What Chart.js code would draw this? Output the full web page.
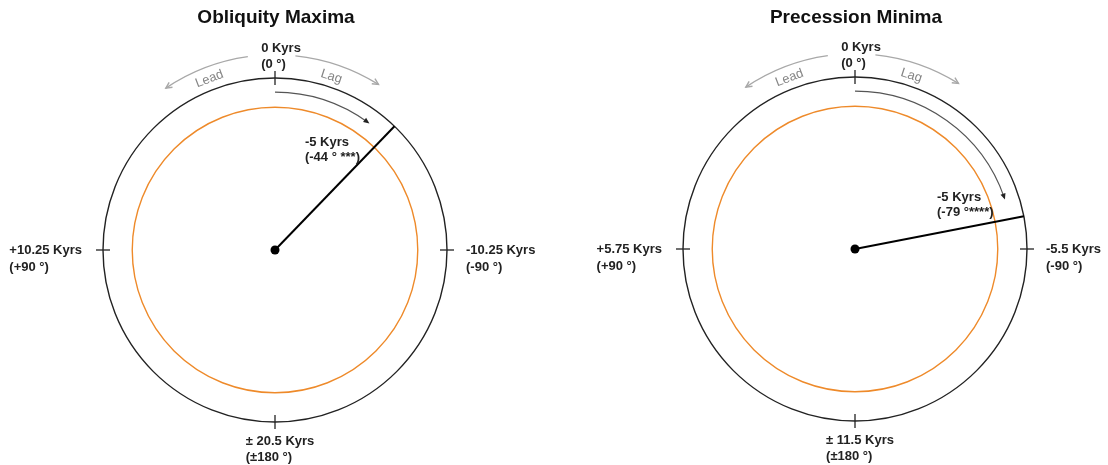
<!DOCTYPE html>
<html><head><meta charset="utf-8">
<script src="https://cdn.jsdelivr.net/npm/chart.js@4/dist/chart.umd.min.js"></script>
<style>
html,body{margin:0;padding:0;background:#fff;width:1108px;height:465px;overflow:hidden}
.p{position:absolute;top:0;width:554px;height:465px}
</style></head>
<body>
<div class="p" style="left:0"><canvas id="c0" width="554" height="465"></canvas></div>
<div class="p" style="left:554px"><canvas id="c1" width="554" height="465"></canvas></div>
<script>
// ---- data ----
const panelTitles = ['Obliquity Maxima', 'Precession Minima'];
const phaseDeg = [-44, -79];
const vectorLength = [1, 1];
const phaseKyrs = ['-5 Kyrs', '-5 Kyrs'];
const phaseText = ['(-44 ° ***)', '(-79 °****)'];
const topLabels = [['0 Kyrs', '(0 °)'], ['0 Kyrs', '(0 °)']];
const leftLabels = [['+10.25 Kyrs', '(+90 °)'], ['+5.75 Kyrs', '(+90 °)']];
const rightLabels = [['-10.25 Kyrs', '(-90 °)'], ['-5.5 Kyrs', '(-90 °)']];
const bottomLabels = [['± 20.5 Kyrs', '(±180 °)'], ['± 11.5 Kyrs', '(±180 °)']];

// ---- layout / style ----
const W = 554, H = 465, RPX = 172;
const layouts = [
  { cx: 275, cy: 250, vecLabel: { x: 0.174, y: 0.628 } },
  { cx: 301, cy: 249, vecLabel: { x: 0.477, y: 0.297 } }
];
const FONT = '"Liberation Sans", Arial, Helvetica, sans-serif';

function toCanvasAngle(a) { return (a - 90) * Math.PI / 180; }

function arrowHead(ctx, x, y, dx, dy, len, hw, filled) {
  const n = Math.hypot(dx, dy); dx /= n; dy /= n;
  const bx = x - dx * len, by = y - dy * len;
  const px = -dy, py = dx;
  ctx.beginPath();
  if (filled) {
    ctx.moveTo(x, y);
    ctx.lineTo(bx + px * hw, by + py * hw);
    ctx.lineTo(bx - px * hw, by - py * hw);
    ctx.closePath();
    ctx.fill();
  } else {
    ctx.moveTo(bx + px * hw, by + py * hw);
    ctx.lineTo(x, y);
    ctx.lineTo(bx - px * hw, by - py * hw);
    ctx.stroke();
  }
}

function textBlock(ctx, lines, x, y, lh) {
  lines.forEach((l, i) => ctx.fillText(l, x, y + i * lh));
}

const dialPlugin = {
  id: 'dial',
  beforeDatasetsDraw(chart, args, opts) {
    const i = opts.idx;
    const ctx = chart.ctx;
    const xs = chart.scales.x, ys = chart.scales.y;
    const cx = xs.getPixelForValue(0), cy = ys.getPixelForValue(0);
    const r = xs.getPixelForValue(1) - cx;
    ctx.save();
    // outer circle
    ctx.strokeStyle = '#222'; ctx.lineWidth = 1.4;
    ctx.beginPath(); ctx.arc(cx, cy, r, 0, Math.PI * 2); ctx.stroke();
    // orange circle
    ctx.strokeStyle = '#ee8a2a'; ctx.lineWidth = 1.4;
    ctx.beginPath(); ctx.arc(cx, cy, r * 0.83, 0, Math.PI * 2); ctx.stroke();
    // ticks
    ctx.strokeStyle = '#222'; ctx.lineWidth = 1.3;
    [0, 90, 180, 270].forEach(a => {
      const t = toCanvasAngle(a);
      ctx.beginPath();
      ctx.moveTo(cx + (r - 7) * Math.cos(t), cy + (r - 7) * Math.sin(t));
      ctx.lineTo(cx + (r + 7) * Math.cos(t), cy + (r + 7) * Math.sin(t));
      ctx.stroke();
    });
    // inner lag arrow from 0 to phase
    const lag = -phaseDeg[i];
    const endA = lag - 8;
    const ri = r * 0.918;
    ctx.strokeStyle = '#555'; ctx.fillStyle = '#222'; ctx.lineWidth = 1.1;
    ctx.beginPath(); ctx.arc(cx, cy, ri, toCanvasAngle(0), toCanvasAngle(endA)); ctx.stroke();
    {
      const t = endA * Math.PI / 180;
      const ex = cx + ri * Math.sin(t), ey = cy - ri * Math.cos(t);
      arrowHead(ctx, ex + Math.cos(t) * 2, ey + Math.sin(t) * 2, Math.cos(t), Math.sin(t), 6, 2.6, true);
    }
    // Lead / Lag arrows
    const ro = r * 1.135;
    ctx.strokeStyle = '#a8a8a8'; ctx.lineWidth = 1.4;
    ctx.beginPath(); ctx.arc(cx, cy, ro, toCanvasAngle(-34), toCanvasAngle(-8)); ctx.stroke();
    {
      const t = -34 * Math.PI / 180;
      const ex = cx + ro * Math.sin(t), ey = cy - ro * Math.cos(t);
      arrowHead(ctx, ex, ey, -Math.cos(t), -Math.sin(t), 6, 3, false);
    }
    ctx.beginPath(); ctx.arc(cx, cy, ro, toCanvasAngle(6), toCanvasAngle(32)); ctx.stroke();
    {
      const t = 32 * Math.PI / 180;
      const ex = cx + ro * Math.sin(t), ey = cy - ro * Math.cos(t);
      arrowHead(ctx, ex, ey, Math.cos(t), Math.sin(t), 6, 3, false);
    }
    ctx.fillStyle = '#858585'; ctx.font = '13px ' + FONT;
    ctx.textAlign = 'center'; ctx.textBaseline = 'middle';
    [['Lead', -21, 1.065], ['Lag', 18, 1.06]].forEach(([s, a, k]) => {
      const t = a * Math.PI / 180;
      ctx.save();
      ctx.translate(cx + r * k * Math.sin(t), cy - r * k * Math.cos(t));
      ctx.rotate(t);
      ctx.fillText(s, 0, 0);
      ctx.restore();
    });
    ctx.restore();
  },
  afterDatasetsDraw(chart, args, opts) {
    const i = opts.idx;
    const ctx = chart.ctx;
    const xs = chart.scales.x, ys = chart.scales.y;
    const cx = xs.getPixelForValue(0), cy = ys.getPixelForValue(0);
    const r = xs.getPixelForValue(1) - cx;
    ctx.save();
    ctx.fillStyle = '#111';
    ctx.textBaseline = 'middle'; ctx.textAlign = 'center';
    ctx.font = 'bold 19px ' + FONT;
    ctx.fillText(panelTitles[i], cx + 1, 18);
    ctx.font = 'bold 13px ' + FONT;
    ctx.fillStyle = '#222';
    ctx.textAlign = 'left';
    const lh = 16;
    const wOf = ls => Math.max(...ls.map(l => ctx.measureText(l).width));
    // top
    let w = wOf(topLabels[i]);
    textBlock(ctx, topLabels[i], cx + 6 - w / 2, cy - r - 30, lh);
    // bottom
    w = wOf(bottomLabels[i]);
    textBlock(ctx, bottomLabels[i], cx + 5 - w / 2, cy + r + 19, lh);
    // left
    w = wOf(leftLabels[i]);
    textBlock(ctx, leftLabels[i], cx - r - 21 - w, cy, lh + 1);
    // right
    textBlock(ctx, rightLabels[i], cx + r + 19, cy, lh + 1);
    // vector label
    const vl = opts.vecLabel;
    textBlock(ctx, [phaseKyrs[i], phaseText[i]], xs.getPixelForValue(vl.x), ys.getPixelForValue(vl.y), 15);
    ctx.restore();
  }
};

function makePanel(i) {
  const L = layouts[i];
  const lag = -phaseDeg[i] * Math.PI / 180;
  const len = vectorLength[i];
  const vec = [{ x: 0, y: 0 }, { x: len * Math.sin(lag), y: len * Math.cos(lag) }];
  new Chart(document.getElementById('c' + i), {
    type: 'scatter',
    data: {
      datasets: [{
        data: vec,
        showLine: true,
        borderColor: '#000',
        borderWidth: 2,
        pointRadius: [4.5, 0],
        pointBackgroundColor: '#000',
        pointBorderWidth: 0
      }]
    },
    options: {
      responsive: false,
      animation: false,
      events: [],
      layout: { padding: 0, autoPadding: false },
      scales: {
        x: { type: 'linear', display: false, min: -L.cx / RPX, max: (W - L.cx) / RPX },
        y: { type: 'linear', display: false, min: -(H - L.cy) / RPX, max: L.cy / RPX }
      },
      plugins: {
        legend: { display: false },
        tooltip: { enabled: false },
        title: { display: false },
        dial: { idx: i, vecLabel: L.vecLabel }
      }
    },
    plugins: [dialPlugin]
  });
}
makePanel(0);
makePanel(1);
</script>
</body></html>
